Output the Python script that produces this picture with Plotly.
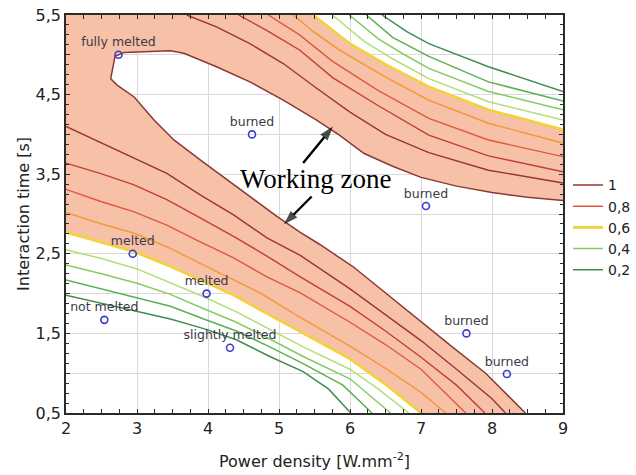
import plotly.graph_objects as go

# ---------------- data ----------------
X_TICKS = [2, 3, 4, 5, 6, 7, 8, 9]
X_TICKTEXT = ["2", "3", "4", "5", "6", "7", "8", "9"]
Y_TICKS = [0.5, 1.5, 2.5, 3.5, 4.5, 5.5]
Y_TICKTEXT = ["0,5", "1,5", "2,5", "3,5", "4,5", "5,5"]
Y_GRID_STEP = 0.5
Y_MINOR_STEP = 0.125
X_MINOR_STEP = 0.25

LEVEL_NAMES = ["1", "0,9", "0,8", "0,7", "0,6", "0,5", "0,4", "0,3", "0,2"]
LEGEND_LEVELS = ["1", "0,8", "0,6", "0,4", "0,2"]

# lower band contour lines
low10_x = [2.00, 2.48, 2.95, 3.42, 3.89, 4.36, 4.83, 5.30, 6.00, 6.50, 7.00, 7.50, 8.00, 8.19]
low10_y = [4.10, 3.90, 3.71, 3.51, 3.24, 2.99, 2.70, 2.48, 2.06, 1.74, 1.41, 1.05, 0.68, 0.50]
low09_x = [2.00, 2.48, 2.95, 3.42, 3.89, 4.36, 4.83, 5.30, 6.00, 6.50, 7.00, 7.50, 7.90]
low09_y = [3.64, 3.51, 3.37, 3.18, 2.95, 2.72, 2.47, 2.21, 1.84, 1.53, 1.20, 0.85, 0.50]
low08_x = [2.00, 2.48, 2.95, 3.42, 3.89, 4.36, 4.83, 5.30, 6.00, 6.50, 7.00, 7.63]
low08_y = [3.31, 3.16, 3.03, 2.86, 2.65, 2.45, 2.21, 2.01, 1.64, 1.36, 1.05, 0.50]
low07_x = [2.00, 2.48, 2.95, 3.42, 3.89, 4.36, 4.73, 5.34, 6.00, 6.50, 7.00, 7.35]
low07_y = [3.02, 2.88, 2.76, 2.59, 2.38, 2.17, 2.01, 1.68, 1.34, 1.06, 0.76, 0.50]
low06_x = [2.00, 2.48, 2.95, 3.42, 3.89, 4.36, 4.87, 5.34, 6.00, 6.50, 7.00]
low06_y = [2.77, 2.65, 2.53, 2.36, 2.17, 1.98, 1.73, 1.50, 1.18, 0.86, 0.50]
low05_x = [2.00, 2.50, 3.00, 3.47, 3.94, 4.40, 4.87, 5.34, 6.00, 6.40, 6.83]
low05_y = [2.55, 2.44, 2.31, 2.14, 1.96, 1.77, 1.55, 1.33, 1.05, 0.80, 0.50]
low04_x = [2.00, 2.50, 3.00, 3.47, 3.94, 4.40, 4.87, 5.34, 6.00, 6.57]
low04_y = [2.36, 2.25, 2.13, 1.99, 1.81, 1.64, 1.43, 1.21, 0.93, 0.50]
low03_x = [2.00, 2.50, 3.00, 3.47, 3.94, 4.40, 4.87, 5.34, 5.90, 6.31]
low03_y = [2.17, 2.06, 1.95, 1.84, 1.68, 1.53, 1.33, 1.12, 0.85, 0.50]
low02_x = [2.00, 2.50, 3.00, 3.47, 3.94, 4.40, 4.87, 5.34, 5.70, 6.01]
low02_y = [1.98, 1.88, 1.78, 1.68, 1.56, 1.42, 1.21, 1.02, 0.80, 0.50]

# upper band contour lines
up10_x = [3.70, 4.12, 4.59, 5.06, 5.53, 6.00, 6.50, 7.11, 7.95, 9.00]
up10_y = [5.50, 5.35, 5.14, 4.89, 4.58, 4.28, 4.00, 3.77, 3.55, 3.39]
up09_x = [4.43, 4.82, 5.29, 5.76, 6.40, 7.11, 7.95, 9.00]
up09_y = [5.50, 5.31, 5.06, 4.71, 4.36, 3.99, 3.73, 3.53]
up08_x = [4.85, 5.29, 5.75, 6.40, 7.11, 7.95, 9.00]
up08_y = [5.50, 5.25, 4.92, 4.55, 4.20, 3.93, 3.72]
up07_x = [5.20, 5.50, 5.85, 6.50, 7.11, 7.95, 9.00]
up07_y = [5.50, 5.28, 5.06, 4.72, 4.43, 4.14, 3.89]
up06_x = [5.48, 6.00, 6.50, 7.11, 7.95, 9.00]
up06_y = [5.50, 5.14, 4.88, 4.60, 4.31, 4.06]
up05_x = [5.75, 6.20, 6.60, 7.11, 7.95, 9.00]
up05_y = [5.50, 5.17, 4.95, 4.70, 4.41, 4.18]
up04_x = [5.99, 6.40, 6.75, 7.11, 7.95, 9.00]
up04_y = [5.50, 5.20, 5.01, 4.83, 4.54, 4.31]
up03_x = [6.23, 6.60, 7.11, 7.95, 9.00]
up03_y = [5.50, 5.22, 4.98, 4.66, 4.42]
up02_x = [6.45, 6.80, 7.11, 7.95, 9.00]
up02_y = [5.50, 5.29, 5.14, 4.85, 4.54]

# boundary of the white ("burned") wedge
island_x = [8.47, 7.91, 7.44, 6.97, 6.50, 6.04, 5.57, 5.30, 4.97, 4.59, 4.26, 3.89, 3.52,
            3.24, 2.96, 2.72, 2.63, 2.66, 2.69, 2.82, 3.10, 3.47, 3.66, 4.12, 4.59, 5.06,
            5.53, 5.85, 6.20, 6.60, 7.00, 7.50, 8.00, 8.50, 9.00]
island_y = [0.50, 1.00, 1.33, 1.67, 2.00, 2.34, 2.62, 2.77, 2.97, 3.22, 3.43, 3.68, 3.93,
            4.18, 4.47, 4.62, 4.70, 4.85, 4.98, 5.03, 5.04, 5.05, 5.02, 4.85, 4.66, 4.43,
            4.18, 3.99, 3.76, 3.60, 3.46, 3.35, 3.27, 3.21, 3.17]

# experimental points
pt_x = [2.74, 4.62, 7.07, 7.64, 8.21, 2.94, 3.98, 2.54, 4.31]
pt_y = [5.00, 4.00, 3.10, 1.50, 0.99, 2.50, 2.00, 1.67, 1.32]
pt_label = ["fully melted", "burned", "burned", "burned", "burned",
            "melted", "melted", "not melted", "slightly melted"]

# "Working zone" label and its two arrows (tail -> head)
zone_label = "Working zone"
zone_xy = [5.52, 3.44]
arrow1_x = [5.34, 5.76]
arrow1_y = [3.64, 4.10]
arrow2_x = [5.46, 5.07]
arrow2_y = [3.22, 2.87]

X_MIN, X_MAX = 2, 9
Y_MIN, Y_MAX = 0.5, 5.5

# ---------------- styling ----------------
LINE_COLORS = ["#9a3434", "#c53c36", "#e0583c", "#f09c3c", "#f2d23a",
               "#b4de72", "#84cc60", "#5cb056", "#428c52"]
LINE_WIDTHS = [1.4, 1.4, 1.4, 1.6, 2.6, 1.5, 1.5, 1.5, 1.5]
SALMON = "rgb(247,193,168)"
SANS = "DejaVu Sans, Verdana, sans-serif"
AXC = "#2a2a2a"

lower = [(low10_x, low10_y), (low09_x, low09_y), (low08_x, low08_y), (low07_x, low07_y),
         (low06_x, low06_y), (low05_x, low05_y), (low04_x, low04_y), (low03_x, low03_y),
         (low02_x, low02_y)]
upper = [(up10_x, up10_y), (up09_x, up09_y), (up08_x, up08_y), (up07_x, up07_y),
         (up06_x, up06_y), (up05_x, up05_y), (up04_x, up04_y), (up03_x, up03_y),
         (up02_x, up02_y)]

fig = go.Figure()

# salmon working-zone fill: between the two 0,6 lines, minus the white wedge
fill_x = (low06_x + [island_x[0]] + island_x + [X_MAX] + up06_x[::-1] + [X_MIN, X_MIN])
fill_y = (low06_y + [Y_MIN] + island_y + [up06_y[-1]] + up06_y[::-1] + [Y_MAX, low06_y[0]])
fig.add_trace(go.Scatter(x=fill_x, y=fill_y, mode="lines", fill="toself",
                         fillcolor=SALMON, line=dict(width=0), hoverinfo="skip",
                         showlegend=False))

for i, (lx, ly) in enumerate(lower):
    fig.add_trace(go.Scatter(x=lx, y=ly, mode="lines", name=LEVEL_NAMES[i],
                             line=dict(color=LINE_COLORS[i], width=LINE_WIDTHS[i]),
                             showlegend=LEVEL_NAMES[i] in LEGEND_LEVELS))
for i, (ux, uy) in enumerate(upper):
    fig.add_trace(go.Scatter(x=ux, y=uy, mode="lines", name=LEVEL_NAMES[i],
                             line=dict(color=LINE_COLORS[i], width=LINE_WIDTHS[i]),
                             showlegend=False))

fig.add_trace(go.Scatter(x=island_x, y=island_y, mode="lines",
                         line=dict(color="#8a3a33", width=1.5), showlegend=False))

fig.add_trace(go.Scatter(x=pt_x, y=pt_y, mode="markers+text", text=pt_label,
                         textposition="top center",
                         textfont=dict(family=SANS, size=12.5, color="#3a3a48"),
                         marker=dict(symbol="circle-open", size=7, color="#3c3cd0",
                                     line=dict(width=1.6)),
                         showlegend=False))

# arrows as line + arrow-head marker oriented along the segment
for ax_, ay_ in [(arrow1_x, arrow1_y), (arrow2_x, arrow2_y)]:
    fig.add_trace(go.Scatter(x=ax_, y=ay_, mode="lines+markers",
                             line=dict(color="black", width=2.4),
                             marker=dict(symbol=["circle", "arrow"], size=[0, 15],
                                         angleref="previous", color="black",
                                         line=dict(width=0)),
                             hoverinfo="skip", showlegend=False))

# invisible anchor so the fine-tick overlay axis is drawn
fig.add_trace(go.Scatter(x=[X_MIN], y=[Y_MIN], yaxis="y2", mode="markers",
                         marker=dict(size=1, opacity=0), hoverinfo="skip",
                         showlegend=False))

fig.add_annotation(x=zone_xy[0], y=zone_xy[1], text=zone_label, showarrow=False,
                   font=dict(family="Liberation Serif, Times New Roman, serif", size=27,
                             color="black"))

axis_common = dict(zeroline=False,
                   showline=True, linecolor=AXC, linewidth=1.5, mirror="allticks",
                   ticks="inside", ticklen=4, tickcolor=AXC,
                   tickfont=dict(family=SANS, size=16, color="#222"))

fig.update_xaxes(range=[X_MIN, X_MAX], tickvals=X_TICKS, ticktext=X_TICKTEXT,
                 showgrid=True, gridcolor="#d9d9d9", gridwidth=1,
                 minor=dict(dtick=X_MINOR_STEP, ticks="inside", ticklen=3, tickcolor=AXC,
                            showgrid=False),
                 title=dict(text="Power density [W.mm<sup>-2</sup>]",
                            font=dict(family=SANS, size=16, color="#222"), standoff=19),
                 **axis_common)
fig.update_layout(yaxis=dict(range=[Y_MIN, Y_MAX], tickvals=Y_TICKS, ticktext=Y_TICKTEXT,
                             showgrid=True, gridcolor="#d9d9d9", gridwidth=1,
                             minor=dict(tick0=Y_MIN, dtick=Y_GRID_STEP, ticks="inside",
                                        ticklen=4, tickcolor=AXC, showgrid=True,
                                        gridcolor="#d9d9d9", gridwidth=1),
                             title=dict(text="Interaction time [s]",
                                        font=dict(family=SANS, size=16, color="#222"),
                                        standoff=2),
                             **axis_common))

# overlay axis that only carries the fine minor ticks of the y axis (both sides)
fig.update_layout(yaxis2=dict(overlaying="y", anchor="x", side="left",
                              range=[Y_MIN, Y_MAX], tickmode="linear", tick0=Y_MIN,
                              dtick=Y_MINOR_STEP, ticks="inside", ticklen=3,
                              tickcolor=AXC, showticklabels=False, showgrid=False,
                              zeroline=False, showline=True, linecolor=AXC,
                              linewidth=1.5, mirror="ticks"))

fig.update_layout(width=636, height=475,
                  margin=dict(l=66, r=73, t=15, b=62, autoexpand=False),
                  paper_bgcolor="white", plot_bgcolor="white",
                  font=dict(family=SANS, size=14, color="#222"),
                  legend=dict(x=1.01, y=0.612, xanchor="left", yanchor="top",
                              bgcolor="rgba(0,0,0,0)",
                              font=dict(family=SANS, size=14, color="#222"),
                              tracegroupgap=0, itemwidth=30))

fig.write_html("out.html")
